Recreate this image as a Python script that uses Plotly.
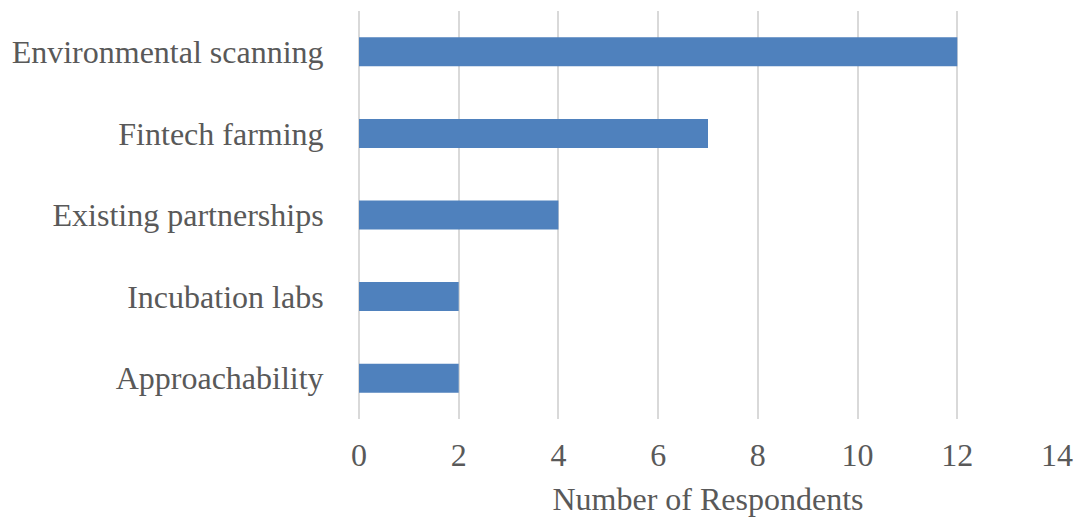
import plotly.graph_objects as go

categories = ["Environmental scanning", "Fintech farming", "Existing partnerships",
              "Incubation labs", "Approachability"]
respondents = [12, 7, 4, 2, 2]
x_ticks = [0, 2, 4, 6, 8, 10, 12, 14]

font_family = "Liberation Serif, Times New Roman, serif"
text_color = "#595959"
grid_color = "#D9D9D9"

fig = go.Figure(
    go.Bar(
        x=respondents,
        y=categories,
        orientation="h",
        marker=dict(color="#4F81BD", line=dict(width=0)),
    )
)

fig.update_layout(
    width=1076,
    height=520,
    margin=dict(l=359, r=19, t=11, b=101),
    paper_bgcolor="white",
    plot_bgcolor="white",
    bargap=0.645,
    showlegend=False,
    font=dict(family=font_family, size=32, color=text_color),
)

fig.update_xaxes(
    range=[0, 14],
    tickvals=x_ticks,
    automargin=False,
    showgrid=True,
    gridcolor=grid_color,
    gridwidth=1.5,
    zeroline=True,
    zerolinecolor=grid_color,
    zerolinewidth=1.5,
    showline=False,
    ticks="outside",
    ticklen=8,
    tickcolor="rgba(0,0,0,0)",
    tickfont=dict(size=32, color=text_color),
    title=dict(text="Number of Respondents", font=dict(size=32, color=text_color), standoff=15),
)

fig.update_yaxes(
    autorange="reversed",
    automargin=False,
    showgrid=False,
    showline=False,
    ticks="outside",
    ticklen=28,
    tickcolor="rgba(0,0,0,0)",
    tickfont=dict(size=32, color=text_color),
)

fig.write_html("out.html")
